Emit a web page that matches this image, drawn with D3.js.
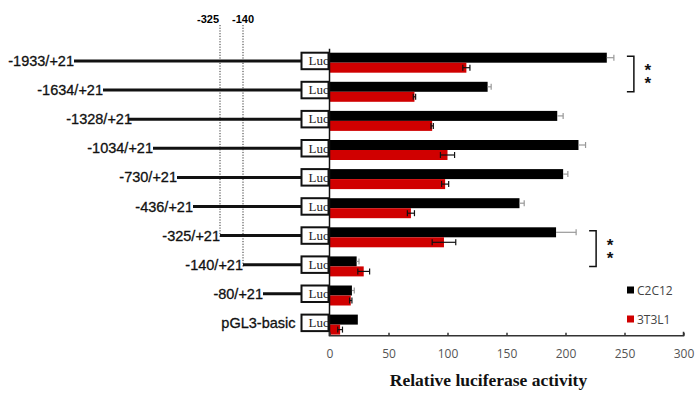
<!DOCTYPE html>
<html>
<head>
<meta charset="utf-8">
<script src="https://cdn.jsdelivr.net/npm/d3@7"></script>
<style>
  body { margin: 0; background: #fff; }
  svg { display: block; }
</style>
</head>
<body>
<div id="chart"><svg width="697" height="401"></svg></div>
<script>
// constructs, top to bottom
const constructs = ['-1933/+21', '-1634/+21', '-1328/+21', '-1034/+21', '-730/+21',
  '-436/+21', '-325/+21', '-140/+21', '-80/+21', 'pGL3-basic'];
const promoterStart = [-1933, -1634, -1328, -1034, -730, -436, -325, -140, -80, null];

// relative luciferase activity
const c2c12 = [235, 134, 193, 211, 198, 161, 192, 23, 19, 24];
const c2c12Err = [6, 3, 5, 6, 4, 4, 17, 2, 2, 0];
const t3l1 = [116, 72, 87, 100, 98, 69, 97, 29, 18, 9];
const t3l1Err = [3, 1, 1, 6, 3, 3, 10, 5, 1, 2];

const xTicks = [0, 50, 100, 150, 200, 250, 300];
const markers = [-325, -140];
const sigPairs = [[0, 1], [6, 7]];
const seriesNames = ['C2C12', '3T3L1'];
const seriesColors = ['#000000', '#d00000'];

const svg = d3.select('#chart svg');

const x = d3.scaleLinear().domain([0, 300]).range([329.5, 683.5]);
const y = d3.scaleBand().domain(constructs).range([52.7, 334.6])
  .paddingInner(0.313).paddingOuter(0);
const barH = y.bandwidth() / 2;

// schematic promoter map (not to scale)
const mapX = d3.scaleLinear()
  .domain([-1933, -1634, -1328, -1034, -730, -436, -325, -140, -80])
  .range([74, 103, 128, 153, 177, 193, 220, 243, 263]);

const boxX = 301.5, boxW = 27, boxH = 16.5;
const lineY = name => y(name) + 8.3;

// dotted marker lines
markers.forEach((m, i) => {
  const row = constructs[promoterStart.indexOf(m)];
  svg.append('line')
    .attr('x1', mapX(m)).attr('x2', mapX(m))
    .attr('y1', 25).attr('y2', lineY(row) + 2)
    .attr('stroke', '#333').attr('stroke-width', 1)
    .attr('stroke-dasharray', '1.2,1.5');
  svg.append('text')
    .attr('x', mapX(m) + (i === 0 ? -12 : 0))
    .attr('y', 23)
    .attr('text-anchor', 'middle')
    .attr('font-family', 'Liberation Sans, Arial, sans-serif')
    .attr('font-size', 11).attr('font-weight', 'bold')
    .text(m);
});

// promoter lines + labels + Luc boxes
constructs.forEach((name, i) => {
  const ly = lineY(name);
  const start = promoterStart[i];
  let labelX = boxX - 6;
  if (start !== null) {
    svg.append('line')
      .attr('x1', mapX(start)).attr('x2', boxX)
      .attr('y1', ly).attr('y2', ly)
      .attr('stroke', '#111').attr('stroke-width', 3);
    labelX = mapX(start) + (i === 2 ? 4 : 0);
  }
  svg.append('text')
    .attr('x', labelX).attr('y', ly + 5)
    .attr('text-anchor', 'end')
    .attr('font-family', 'Liberation Sans, Arial, sans-serif')
    .attr('font-size', 14.5)
    .attr('fill', '#111')
    .attr('stroke', '#111').attr('stroke-width', 0.3)
    .text(name);

  svg.append('rect')
    .attr('x', boxX).attr('y', y(name))
    .attr('width', boxW).attr('height', boxH)
    .attr('fill', '#fff').attr('stroke', '#111').attr('stroke-width', 2);
  svg.append('text')
    .attr('x', boxX + 7).attr('y', y(name) + 12.5)
    .attr('font-family', 'Liberation Serif, Times New Roman, serif')
    .attr('font-size', 13)
    .attr('fill', '#222')
    .text('Luc');
});

// bars
const gBars = svg.append('g');
[c2c12, t3l1].forEach((vals, s) => {
  gBars.selectAll(null)
    .data(vals)
    .join('rect')
    .attr('x', x(0))
    .attr('y', (d, i) => y(constructs[i]) + s * barH)
    .attr('width', d => x(d) - x(0))
    .attr('height', barH)
    .attr('fill', seriesColors[s]);
});

// error bars
function errBar(v, e, cy, color, both) {
  if (!e) return;
  const lo = both ? v - e : v;
  svg.append('line')
    .attr('x1', x(lo)).attr('x2', x(v + e))
    .attr('y1', cy).attr('y2', cy)
    .attr('stroke', color).attr('stroke-width', 1.2);
  const caps = both ? [lo, v + e] : [v + e];
  caps.forEach(c => {
    svg.append('line')
      .attr('x1', x(c)).attr('x2', x(c))
      .attr('y1', cy - 3).attr('y2', cy + 3)
      .attr('stroke', color).attr('stroke-width', 1.2);
  });
}
constructs.forEach((name, i) => {
  errBar(c2c12[i], c2c12Err[i], y(name) + barH / 2, '#999', false);
  errBar(t3l1[i], t3l1Err[i], y(name) + barH * 1.5, '#111', true);
});

// vertical axis line
svg.append('line')
  .attr('x1', x(0)).attr('x2', x(0))
  .attr('y1', y(constructs[0]) - 4).attr('y2', 336)
  .attr('stroke', '#111').attr('stroke-width', 1.5);

// bottom axis
const axisY = 335.7;
const axis = svg.append('g')
  .attr('transform', `translate(0,${axisY})`)
  .call(d3.axisBottom(x).tickValues(xTicks).tickSize(-3).tickPadding(14));
axis.select('.domain').attr('stroke', '#333').attr('stroke-width', 1.5)
  .attr('d', `M${x(0)},-4V0H${x(300)}V-4`);
axis.selectAll('.tick line').attr('stroke', '#333').attr('stroke-width', 1.5);
axis.selectAll('.tick text')
  .attr('font-family', 'Open Sans, Liberation Sans, sans-serif')
  .attr('font-size', 12).attr('fill', '#555');

svg.append('text')
  .attr('x', (x(0) + x(300)) / 2 - 18).attr('y', 386)
  .attr('text-anchor', 'middle')
  .attr('font-family', 'Liberation Serif, Times New Roman, serif')
  .attr('font-size', 17.5).attr('font-weight', 'bold')
  .attr('fill', '#111')
  .text('Relative luciferase activity');

// significance brackets
sigPairs.forEach(([a, b]) => {
  const top = y(constructs[a]) + 3.5;
  const bot = y(constructs[b]) + 10;
  const xr = x(Math.max(c2c12[a] + c2c12Err[a], c2c12[b] + c2c12Err[b], t3l1[a] + t3l1Err[a])) + 13;
  svg.append('path')
    .attr('d', `M${xr},${top}H${xr + 7}V${bot}H${xr}`)
    .attr('fill', 'none').attr('stroke', '#111').attr('stroke-width', 1.5);
  const mid = (top + bot) / 2;
  // one text, stacked vertically
  svg.append('text')
    .attr('x', xr + 21).attr('y', mid)
    .attr('text-anchor', 'middle')
    .attr('dominant-baseline', 'central')
    .attr('style', 'writing-mode: vertical-rl; text-orientation: upright; letter-spacing: -6px;')
    .attr('font-family', 'Liberation Sans, Arial, sans-serif')
    .attr('font-size', 17).attr('font-weight', 'bold')
    .attr('fill', '#111')
    .text('**');
});

// legend
const legend = svg.append('g').attr('transform', 'translate(627,290)');
seriesNames.forEach((n, i) => {
  const g = legend.append('g').attr('transform', `translate(0,${i * 29})`);
  g.append('rect').attr('x', 0).attr('y', -3.5).attr('width', 7).attr('height', 7)
    .attr('fill', seriesColors[i]);
  g.append('text').attr('x', 10).attr('y', 4.5)
    .attr('font-family', 'Open Sans, Liberation Sans, sans-serif')
    .attr('font-size', 12).attr('fill', '#444')
    .text(n);
});
</script>
</body>
</html>
